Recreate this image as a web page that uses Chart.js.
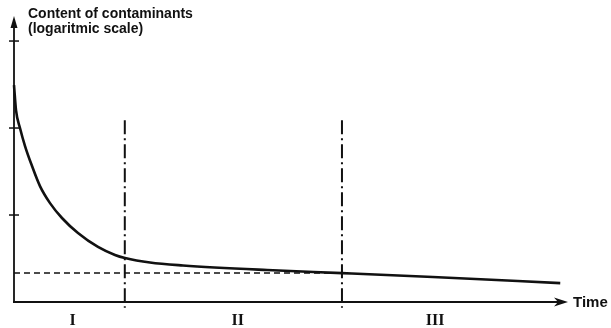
<!DOCTYPE html>
<html>
<head>
<meta charset="utf-8">
<script src="https://cdn.jsdelivr.net/npm/chart.js@4"></script>
<style>
  html, body { margin: 0; padding: 0; background: #fff; }
</style>
</head>
<body>
<canvas id="chart" width="611" height="328"></canvas>
<script>
// Curve (time in % of the axis, content on a log scale)
const times    = [0, 0.36, 1.08, 1.99, 3.25, 4.69, 6.5, 8.66, 11.55, 15.16, 18.23, 20.04, 24.55, 30.5, 45.7, 59.2, 75.6, 98.6];
const contents = [312, 161, 100, 62.1, 36.6, 21.5, 13.7, 9.24, 6.21, 4.29, 3.47, 3.2, 2.84, 2.63, 2.33, 2.15, 1.94, 1.65];

// Phase boundaries and labels
const phaseBounds = [20, 59.2];
const phaseLabels = ['I', 'II', 'III'];
const phaseCenters = [10.6, 40.4, 76];

// Residual level (dashed line) and y tick positions
const residualLevel = 2.15;
const yTicks = [10, 100, 1000];

const ink = '#111';

// Function to draw axes, arrows and texts
const axesPlugin = {
  id: 'axes',
  afterDatasetsDraw(chart) {
    const { ctx, scales: { x, y } } = chart;
    const x0 = x.getPixelForValue(0);
    const y0 = y.getPixelForValue(1);
    const xEnd = x.getPixelForValue(100);
    const yTop = y.getPixelForValue(y.max);

    ctx.save();
    ctx.strokeStyle = ink;
    ctx.fillStyle = ink;
    ctx.lineWidth = 1.8;

    // axis lines
    ctx.beginPath();
    ctx.moveTo(x0, y0);
    ctx.lineTo(x0, yTop + 6);
    ctx.moveTo(x0 - 1, y0);
    ctx.lineTo(xEnd - 8, y0);
    ctx.stroke();

    // arrows
    ctx.beginPath();
    ctx.moveTo(x0, yTop - 2);
    ctx.lineTo(x0 - 3.5, yTop + 10);
    ctx.lineTo(x0 + 3.5, yTop + 10);
    ctx.closePath();
    ctx.fill();
    ctx.beginPath();
    ctx.moveTo(xEnd, y0);
    ctx.lineTo(xEnd - 14, y0 - 4.5);
    ctx.lineTo(xEnd - 10, y0);
    ctx.lineTo(xEnd - 14, y0 + 4.5);
    ctx.closePath();
    ctx.fill();

    // y ticks crossing the axis
    ctx.lineWidth = 1.5;
    yTicks.forEach((v) => {
      const py = y.getPixelForValue(v);
      ctx.beginPath();
      ctx.moveTo(x0 - 5, py);
      ctx.lineTo(x0 + 5, py);
      ctx.stroke();
    });

    // texts
    ctx.textBaseline = 'alphabetic';
    ctx.textAlign = 'left';
    ctx.font = 'bold 14px "Liberation Sans", Arial, sans-serif';
    ctx.fillText('Content of contaminants', x0 + 14, 18);
    ctx.fillText('(logaritmic scale)', x0 + 14, 33);
    ctx.font = 'bold 15px "Liberation Sans", Arial, sans-serif';
    ctx.fillText('Time', xEnd + 5, y0 + 5);

    ctx.textAlign = 'center';
    ctx.font = 'bold 16px "Liberation Serif", "DejaVu Serif", serif';
    phaseLabels.forEach((lab, i) => {
      ctx.fillText(lab, x.getPixelForValue(phaseCenters[i]), y0 + 23);
    });
    ctx.restore();
  },
};

// Boundary lines as datasets
const boundarySets = phaseBounds.map((t) => ({
  data: [{ x: t, y: 123 }, { x: t, y: 0.86 }],
  borderColor: ink,
  borderWidth: 2,
  borderDash: [14, 4, 2, 4],
  pointRadius: 0,
  clip: false,
}));

new Chart(document.getElementById('chart').getContext('2d'), {
  type: 'line',
  data: {
    datasets: [
      {
        data: times.map((t, i) => ({ x: t, y: contents[i] })),
        borderColor: ink,
        borderWidth: 2.6,
        pointRadius: 0,
        cubicInterpolationMode: 'monotone',
        clip: false,
      },
      {
        data: [{ x: 0, y: residualLevel }, { x: phaseBounds[1], y: residualLevel }],
        borderColor: ink,
        borderWidth: 1.5,
        borderDash: [6, 4],
        pointRadius: 0,
      },
      ...boundarySets,
    ],
  },
  options: {
    responsive: false,
    animation: false,
    layout: { padding: { left: 14, right: 43, top: 18, bottom: 26 } },
    plugins: { legend: { display: false }, tooltip: { enabled: false } },
    scales: {
      x: { type: 'linear', min: 0, max: 100, display: false },
      y: { type: 'logarithmic', min: 1, max: 1840, display: false },
    },
  },
  plugins: [axesPlugin],
});
</script>
</body>
</html>
